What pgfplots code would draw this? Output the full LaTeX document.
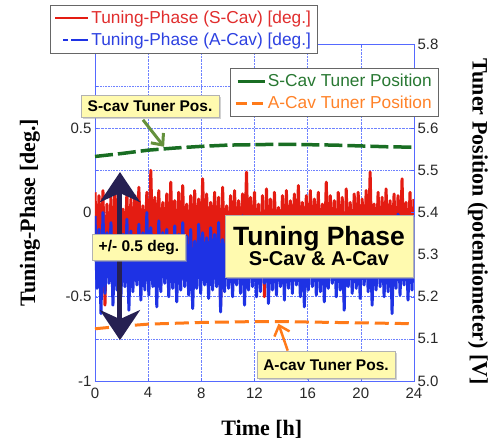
\documentclass[border=0pt]{standalone}
\usepackage{pgfplots}
\pgfplotsset{compat=1.18}
\usepackage{fontspec}
\setmainfont{Liberation Sans}
\newfontfamily\seriffont{Liberation Serif}
\usetikzlibrary{arrows.meta,shadows}

\definecolor{sred}{RGB}{228,28,18}
\definecolor{ablue}{RGB}{30,50,228}
\definecolor{sgreen}{RGB}{25,110,35}
\definecolor{aorange}{RGB}{255,122,25}
\definecolor{axisblue}{RGB}{85,105,255}
\definecolor{gridblue}{RGB}{110,130,255}
\definecolor{tickgray}{RGB}{40,40,40}
\definecolor{boxyellow}{RGB}{255,250,175}
\definecolor{navy}{RGB}{38,32,82}
\definecolor{arrgreen}{RGB}{100,145,60}
\definecolor{txtred}{RGB}{225,45,45}
\definecolor{txtblue}{RGB}{45,65,225}
\definecolor{txtgreen}{RGB}{40,120,50}
\definecolor{txtorange}{RGB}{255,130,40}

\tikzset{
  box/.style={draw=gray!60, fill=boxyellow, font=\bfseries\fontsize{15.5}{17}\selectfont,
    drop shadow={shadow xshift=2pt, shadow yshift=-2pt, fill=gray!70}},
}

\begin{document}
\begin{tikzpicture}
\pgfplotsset{
  common/.style={
    at={(0,0)}, anchor=south west,
    scale only axis, width=319pt, height=337pt,
    xmin=0, xmax=24,
    axis line style={axisblue, line width=0.8pt},
    tick style={axisblue},
    major tick length=3pt,
    ticklabel style={font=\fontsize{15}{17}\selectfont, text=tickgray},
    /pgf/number format/assume math mode=true,
    label style={font=\seriffont\bfseries\fontsize{22}{24}\selectfont},
    legend cell align=left,
  },
}

% tuning phase, left axis
\begin{axis}[common,
  ymin=-1, ymax=1,
  xtick={0,4,...,24},
  ytick={-1,-0.5,0,0.5},
  minor ytick={-0.75,-0.25,0.25,0.75},
  xticklabel style={yshift=-3pt},
  xmajorgrids, ymajorgrids, yminorgrids,
  grid style={densely dotted, gridblue, line width=0.6pt},
  minor grid style={densely dotted, gridblue, line width=0.6pt},
  xlabel={Time [h]},
  ylabel={Tuning-Phase [deg.]},
  xlabel style={at={(axis description cs:0.523,-0.142)}, anchor=center},
  ylabel style={at={(axis description cs:-0.204,0.5)}, anchor=center},
  legend style={at={(-0.141,1.116)}, anchor=north west, draw=gray!80!black, fill=white,
    font=\fontsize{17.3}{19}\selectfont, inner xsep=4pt, inner ysep=4pt, row sep=4pt},
]
\addplot[sred, line width=3pt, line join=round,
  legend image code/.code={\draw[sred, line width=2.2pt] (0pt,0pt) -- (33pt,0pt);}]
table[row sep=\\] {
x y \\
0 0.12 \\ 0.15 -0.3 \\ 0.3 0.1 \\ 0.45 -0.25 \\ 0.6 0.13 \\ 0.75 -0.55 \\ 0.9 0.05 \\ 1.05 -0.28 \\ 1.2 0.09 \\ 1.35 -0.32 \\ 1.5 0.14 \\ 1.65 -0.22 \\ 1.8 0.11 \\ 1.95 -0.3 \\ 2.1 0.02 \\ 2.25 -0.26 \\ 2.4 0.12 \\ 2.55 -0.35 \\ 2.7 0.08 \\ 2.85 -0.24 \\
3 0.1 \\ 3.15 -0.3 \\ 3.3 0.15 \\ 3.45 -0.27 \\ 3.6 0.04 \\ 3.75 -0.22 \\ 3.9 0.12 \\ 4.05 -0.33 \\ 4.2 0.25 \\ 4.35 -0.28 \\ 4.5 0.09 \\ 4.65 -0.25 \\ 4.8 0.13 \\ 4.95 -0.31 \\ 5.1 0.06 \\ 5.25 -0.2 \\ 5.4 0.11 \\ 5.55 -0.29 \\ 5.7 0.18 \\ 5.85 -0.26 \\
6 0.07 \\ 6.15 -0.32 \\ 6.3 0.12 \\ 6.45 -0.24 \\ 6.6 0.16 \\ 6.75 -0.3 \\ 6.9 0.05 \\ 7.05 -0.27 \\ 7.2 0.1 \\ 7.35 -0.22 \\ 7.5 0.13 \\ 7.65 -0.34 \\ 7.8 0.08 \\ 7.95 -0.28 \\ 8.1 0.2 \\ 8.25 -0.25 \\ 8.4 0.11 \\ 8.55 -0.3 \\ 8.7 0.06 \\ 8.85 -0.23 \\
9 0.12 \\ 9.15 -0.29 \\ 9.3 0.09 \\ 9.45 -0.55 \\ 9.6 0.15 \\ 9.75 -0.26 \\ 9.9 0.04 \\ 10.05 -0.31 \\ 10.2 0.1 \\ 10.35 -0.24 \\ 10.5 0.13 \\ 10.65 -0.3 \\ 10.8 0.07 \\ 10.95 -0.27 \\ 11.1 0.11 \\ 11.25 -0.21 \\ 11.4 0.24 \\ 11.55 -0.33 \\ 11.7 0.09 \\ 11.85 -0.28 \\
12 0.12 \\ 12.15 -0.25 \\ 12.3 0.05 \\ 12.45 -0.3 \\ 12.6 0.1 \\ 12.75 -0.5 \\ 12.9 0.14 \\ 13.05 -0.27 \\ 13.2 0.08 \\ 13.35 -0.32 \\ 13.5 0.12 \\ 13.65 -0.24 \\ 13.8 0.03 \\ 13.95 -0.29 \\ 14.1 0.1 \\ 14.25 -0.26 \\ 14.4 0.13 \\ 14.55 -0.31 \\ 14.7 0.07 \\ 14.85 -0.22 \\
15 0.11 \\ 15.15 -0.28 \\ 15.3 0.16 \\ 15.45 -0.3 \\ 15.6 0.06 \\ 15.75 -0.25 \\ 15.9 0.1 \\ 16.05 -0.33 \\ 16.2 0.13 \\ 16.35 -0.27 \\ 16.5 0.08 \\ 16.65 -0.23 \\ 16.8 0.12 \\ 16.95 -0.3 \\ 17.1 0.05 \\ 17.25 -0.26 \\ 17.4 0.18 \\ 17.55 -0.32 \\ 17.7 0.1 \\ 17.85 -0.24 \\
18 0.07 \\ 18.15 -0.29 \\ 18.3 0.12 \\ 18.45 -0.27 \\ 18.6 0.09 \\ 18.75 -0.52 \\ 18.9 0.14 \\ 19.05 -0.25 \\ 19.2 0.06 \\ 19.35 -0.3 \\ 19.5 0.11 \\ 19.65 -0.22 \\ 19.8 0.12 \\ 19.95 -0.31 \\ 20.1 0.08 \\ 20.25 -0.28 \\ 20.4 0.13 \\ 20.55 -0.26 \\ 20.7 0.24 \\ 20.85 -0.33 \\
21 0.05 \\ 21.15 -0.24 \\ 21.3 0.12 \\ 21.45 -0.3 \\ 21.6 0.09 \\ 21.75 -0.27 \\ 21.9 0.14 \\ 22.05 -0.29 \\ 22.2 0.07 \\ 22.35 -0.23 \\ 22.5 0.11 \\ 22.65 -0.31 \\ 22.8 0.1 \\ 22.95 -0.26 \\ 23.1 0.2 \\ 23.25 -0.3 \\ 23.4 0.06 \\ 23.55 -0.25 \\ 23.7 0.12 \\ 23.85 -0.28 \\
24 0.08 \\
};
\addlegendentry{\textcolor{txtred}{Tuning-Phase (S-Cav) [deg.]}}
\addplot[ablue, line width=3pt, line join=round,
  legend image code/.code={\draw[ablue, line width=2.2pt, dash pattern=on 5pt off 3pt on 30pt] (8pt,0pt) -- (33pt,0pt);}]
table[row sep=\\] {
x y \\
0 -0.02 \\ 0.15 -0.45 \\ 0.3 -0.1 \\ 0.45 -0.6 \\ 0.6 0.0 \\ 0.75 -0.48 \\ 0.9 -0.12 \\ 1.05 -0.42 \\ 1.2 -0.06 \\ 1.35 -0.55 \\ 1.5 -0.15 \\ 1.65 -0.46 \\ 1.8 -0.08 \\ 1.95 -0.5 \\ 2.1 -0.13 \\ 2.25 -0.44 \\ 2.4 -0.04 \\ 2.55 -0.58 \\ 2.7 -0.11 \\ 2.85 -0.47 \\
3 -0.14 \\ 3.15 -0.43 \\ 3.3 -0.07 \\ 3.45 -0.52 \\ 3.6 -0.12 \\ 3.75 -0.46 \\ 3.9 0.0 \\ 4.05 -0.49 \\ 4.2 -0.09 \\ 4.35 -0.44 \\ 4.5 -0.15 \\ 4.65 -0.56 \\ 4.8 -0.05 \\ 4.95 -0.47 \\ 5.1 -0.12 \\ 5.25 -0.42 \\ 5.4 -0.1 \\ 5.55 -0.5 \\ 5.7 -0.16 \\ 5.85 -0.45 \\
6 -0.08 \\ 6.15 -0.53 \\ 6.3 -0.13 \\ 6.45 -0.46 \\ 6.6 -0.06 \\ 6.75 -0.44 \\ 6.9 -0.14 \\ 7.05 -0.49 \\ 7.2 -0.1 \\ 7.35 -0.57 \\ 7.5 -0.17 \\ 7.65 -0.45 \\ 7.8 -0.07 \\ 7.95 -0.48 \\ 8.1 -0.12 \\ 8.25 -0.43 \\ 8.4 -0.15 \\ 8.55 -0.51 \\ 8.7 -0.09 \\ 8.85 -0.46 \\
9 -0.13 \\ 9.15 -0.44 \\ 9.3 -0.06 \\ 9.45 -0.59 \\ 9.6 -0.16 \\ 9.75 -0.47 \\ 9.9 -0.11 \\ 10.05 -0.45 \\ 10.2 -0.08 \\ 10.35 -0.5 \\ 10.5 -0.14 \\ 10.65 -0.43 \\ 10.8 -0.1 \\ 10.95 -0.48 \\ 11.1 -0.02 \\ 11.25 -0.55 \\ 11.4 -0.13 \\ 11.55 -0.46 \\ 11.7 -0.09 \\ 11.85 -0.44 \\
12 -0.15 \\ 12.15 -0.5 \\ 12.3 -0.11 \\ 12.45 -0.47 \\ 12.6 -0.07 \\ 12.75 -0.42 \\ 12.9 -0.14 \\ 13.05 -0.54 \\ 13.2 -0.1 \\ 13.35 -0.46 \\ 13.5 -0.16 \\ 13.65 -0.49 \\ 13.8 -0.08 \\ 13.95 -0.44 \\ 14.1 -0.12 \\ 14.25 -0.52 \\ 14.4 -0.05 \\ 14.55 -0.45 \\ 14.7 -0.13 \\ 14.85 -0.48 \\
15 -0.1 \\ 15.15 -0.43 \\ 15.3 -0.15 \\ 15.45 -0.5 \\ 15.6 -0.07 \\ 15.75 -0.56 \\ 15.9 -0.12 \\ 16.05 -0.46 \\ 16.2 -0.09 \\ 16.35 -0.44 \\ 16.5 -0.14 \\ 16.65 -0.49 \\ 16.8 -0.06 \\ 16.95 -0.47 \\ 17.1 -0.11 \\ 17.25 -0.53 \\ 17.4 -0.15 \\ 17.55 -0.45 \\ 17.7 -0.08 \\ 17.85 -0.42 \\
18 -0.12 \\ 18.15 -0.5 \\ 18.3 -0.1 \\ 18.45 -0.46 \\ 18.6 -0.16 \\ 18.75 -0.58 \\ 18.9 -0.07 \\ 19.05 -0.44 \\ 19.2 -0.13 \\ 19.35 -0.48 \\ 19.5 -0.09 \\ 19.65 -0.45 \\ 19.8 -0.14 \\ 19.95 -0.51 \\ 20.1 -0.04 \\ 20.25 -0.43 \\ 20.4 -0.11 \\ 20.55 -0.47 \\ 20.7 -0.15 \\ 20.85 -0.55 \\
21 -0.08 \\ 21.15 -0.46 \\ 21.3 -0.12 \\ 21.45 -0.44 \\ 21.6 -0.1 \\ 21.75 -0.5 \\ 21.9 -0.14 \\ 22.05 -0.47 \\ 22.2 -0.06 \\ 22.35 -0.6 \\ 22.5 -0.11 \\ 22.65 -0.45 \\ 22.8 -0.01 \\ 22.95 -0.49 \\ 23.1 -0.13 \\ 23.25 -0.43 \\ 23.4 -0.09 \\ 23.55 -0.52 \\ 23.7 -0.12 \\ 23.85 -0.46 \\
24 -0.1 \\
};
\addlegendentry{\textcolor{txtblue}{Tuning-Phase (A-Cav) [deg.]}}
\end{axis}

% tuner position, right axis
\begin{axis}[common,
  ymin=5.0, ymax=5.8,
  axis x line=none, axis y line*=right,
  ytick={5.0,5.1,5.2,5.3,5.4,5.5,5.6,5.7,5.8},
  yticklabel style={/pgf/number format/.cd, fixed, fixed zerofill, precision=1},
  ylabel={Tuner Position (potentiometer) [V]},
  ylabel style={at={(axis description cs:1.2006,0.472)}, anchor=center, rotate=180},
  clip=false,
  legend style={at={(0.423,0.929)}, anchor=north west, draw=gray!80!black, fill=white,
    font=\fontsize{17.3}{19}\selectfont, inner xsep=4pt, inner ysep=4pt, row sep=4pt},
]
\addplot[sgreen, line width=3.5pt, dash pattern=on 18pt off 5pt,
  legend image code/.code={\draw[sgreen, solid, line width=2.8pt] (6pt,0pt) -- (33pt,0pt);}]
table[row sep=\\] {
x y \\
0 5.533 \\ 2 5.540 \\ 4 5.548 \\ 6 5.553 \\ 8 5.557 \\ 10 5.560 \\ 12 5.561 \\
14 5.562 \\ 16 5.561 \\ 18 5.560 \\ 20 5.558 \\ 22 5.556 \\ 24 5.555 \\
};
\addlegendentry{\textcolor{txtgreen}{S-Cav Tuner Position}}
\addplot[aorange, line width=3pt, dash pattern=on 14pt off 6pt,
  legend image code/.code={\draw[aorange, line width=2.8pt, dash pattern=on 11pt off 5pt] (4pt,0pt) -- (33pt,0pt);}]
table[row sep=\\] {
x y \\
0 5.124 \\ 2 5.130 \\ 4 5.135 \\ 6 5.137 \\ 8 5.139 \\ 10 5.140 \\ 12 5.141 \\
14 5.141 \\ 16 5.140 \\ 18 5.139 \\ 20 5.138 \\ 22 5.137 \\ 24 5.136 \\
};
\addlegendentry{\textcolor{txtorange}{A-Cav Tuner Position}}

% annotations (y in volts: V = 5.4 + 0.4*deg)
\draw[arrgreen, line width=3pt, -{Straight Barb[length=9pt,width=16pt]}]
  (axis cs:3.61,5.62) -- (axis cs:5.2,5.556);
\draw[aorange, line width=2.5pt, -{Straight Barb[length=9pt,width=16pt]}]
  (axis cs:14.5,5.072) -- (axis cs:13.8,5.136);
\draw[navy, line width=5pt,
  {Stealth[length=30pt,width=40pt,inset=9pt]}-{Stealth[length=30pt,width=40pt,inset=9pt]}]
  (axis cs:1.88,5.496) -- (axis cs:1.88,5.097);
\node[box, minimum width=138pt, minimum height=22pt, inner sep=2pt] at (axis cs:4.14,5.653) {S-cav Tuner Pos.};
\node[box, minimum width=93pt, minimum height=26pt, inner sep=2pt] at (axis cs:3.31,5.318) {+/- 0.5 deg.};
\node[box, minimum width=188pt, minimum height=62pt, inner sep=2pt, align=center] at (axis cs:16.85,5.32)
  {{\fontsize{26.5}{28}\selectfont Tuning Phase}\\[0pt]{\fontsize{20}{22}\selectfont S-Cav \& A-Cav}};
\node[box, minimum width=138pt, minimum height=27pt, inner sep=2pt] at (axis cs:17.38,5.038) {A-cav Tuner Pos.};
\end{axis}

\pgfresetboundingbox
\useasboundingbox (-95pt,-60pt) rectangle (395pt,381pt);
\end{tikzpicture}
\end{document}
